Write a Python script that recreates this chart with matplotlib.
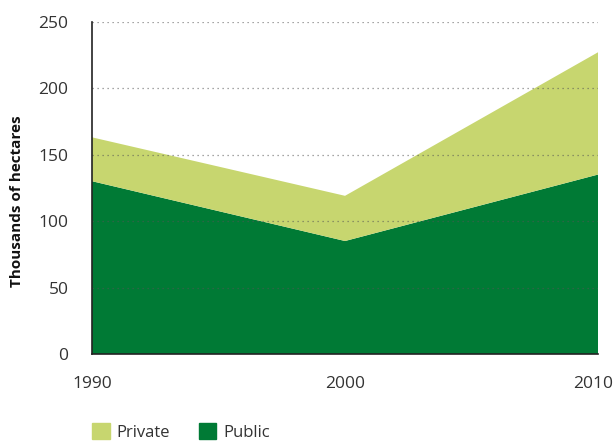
import matplotlib
matplotlib.use("Agg")
import matplotlib.pyplot as plt
import matplotlib.transforms as mtransforms
from matplotlib.patches import Patch

# data
years = [1990, 2000, 2010]
public = [130, 85, 135]
private = [33, 34, 92]
yticks = [0, 50, 100, 150, 200, 250]

light_green = "#C7D66F"
dark_green = "#007A35"
text_col = "#333333"

plt.rcParams['font.family'] = ['Open Sans', 'DejaVu Sans']

fig = plt.figure(figsize=(6.16, 4.41), dpi=100)
ax = fig.add_axes([0.1494, 0.1973, 0.8214, 0.7535])

ax.stackplot(years, public, private, colors=[dark_green, light_green],
             linewidth=0, zorder=1)

ax.set_xlim(1990, 2010)
ax.set_ylim(0, 250)
ax.set_yticks(yticks)
ax.set_xticks(years)

for y in yticks[1:]:
    ax.axhline(y, color="#555555", linestyle=(0, (1, 3)), linewidth=0.9,
               alpha=0.7, zorder=2)

for side in ["top", "right"]:
    ax.spines[side].set_visible(False)
for side in ["left", "bottom"]:
    ax.spines[side].set_color("#222222")
    ax.spines[side].set_linewidth(1.2)
    ax.spines[side].set_zorder(3)

ax.tick_params(axis="both", length=0, labelsize=12.5, labelcolor=text_col)
ax.tick_params(axis="y", pad=17)
ax.tick_params(axis="x", pad=16)

# last year label sits a little inside the right edge
last = ax.get_xticklabels()[-1]
last.set_transform(last.get_transform() +
                   mtransforms.ScaledTranslation(-5 / 100, 0, fig.dpi_scale_trans))

ax.set_ylabel("Thousands of hectares", fontsize=11, fontweight="bold",
              color="#111111")
ax.yaxis.set_label_coords(-0.134, 0.459)

handles = [Patch(color=light_green, label="Private"),
           Patch(color=dark_green, label="Public")]
fig.legend(handles=handles, loc="lower left", bbox_to_anchor=(0.125, -0.033),
           ncol=2, frameon=False, fontsize=12, handlelength=1.05,
           handleheight=1.1, handletextpad=0.4, columnspacing=1.75,
           labelcolor=text_col)

fig.savefig("out.png", dpi=100)
